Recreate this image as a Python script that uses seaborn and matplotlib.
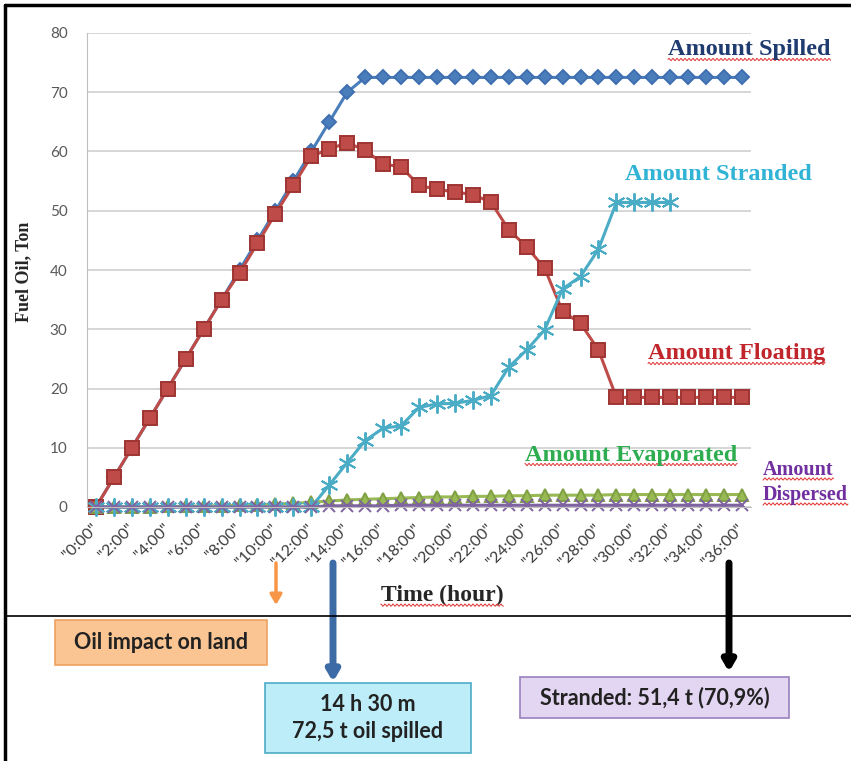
import numpy as np
import pandas as pd
import seaborn as sns
import matplotlib.pyplot as plt
from matplotlib.patches import Rectangle
from matplotlib.lines import Line2D

# hourly categories, labels shown every 2 hours
hours = list(range(37))
hour_labels = ['"%d:00"' % h for h in hours]

spilled = [0, 5, 10, 15, 20, 25, 30, 35, 40, 45, 50, 55, 60, 65, 70] + [72.5] * 22
floating = [0, 5, 10, 15, 20, 25, 30, 35, 39.5, 44.5, 49.5, 54.3, 59.2, 60.4, 61.5,
            60.2, 57.9, 57.4, 54.3, 53.6, 53.2, 52.7, 51.5, 46.8, 43.9, 40.3, 33.0,
            31.0, 26.5] + [18.5] * 8
stranded = [0] * 13 + [3.7, 7.5, 11.2, 13.3, 13.7, 16.8, 17.4, 17.5, 18.0, 18.8, 23.6,
                       26.5, 29.9, 36.8, 38.9, 43.5, 51.4, 51.4, 51.4, 51.4]
evaporated = [0, 0, 0, 0, 0.1, 0.1, 0.2, 0.2, 0.3, 0.4, 0.5, 0.6, 0.8, 1.0, 1.2, 1.3,
              1.4, 1.5, 1.6, 1.7, 1.7, 1.8, 1.8, 1.9, 1.9] + [2.0] * 4 + [2.1] * 8
dispersed = [0] * 13 + [0.2] * 4 + [0.3] * 20

W, H = 851, 761

sns.set_style("white")
plt.rcParams['font.family'] = ['Lato', 'DejaVu Sans']

fig = plt.figure(figsize=(W / 100, H / 100), dpi=100)
ax = fig.add_axes([87 / W, 1 - 507 / H, 664 / W, 474 / H])

# series: (values, colour, marker, size, edge)
series = [
    (spilled, "#4A7EBB", "D", 7.5, "#3F6FB0"),
    (floating, "#BE4B48", "s", 9.5, "#9E3532"),
    (evaporated, "#98B954", "^", 9, "#7FA043"),
    (stranded, "#4BACC6", (6, 2, 0), 13, "#4BACC6"),
    (dispersed, "#7F63A1", "x", 8, "#7F63A1"),
]
for vals, col, mk, ms, ec in series:
    df = pd.DataFrame({"hour": hours[:len(vals)], "value": vals})
    sns.lineplot(data=df, x="hour", y="value", color=col, lw=2.2, marker=mk,
                 markersize=ms, markeredgecolor=ec, markeredgewidth=1.4, ax=ax)
# markers on the zero line are drawn whole, as in the original
for ln in ax.lines:
    ln.set_clip_on(False)

ax.set_xlim(-0.5, 36.5)
ax.set_ylim(0, 80)
ax.set_yticks(range(0, 81, 10))
ax.yaxis.grid(True, color="#D0D0D0", lw=1.2)
ax.set_xticks(hours[::2])
ax.set_xticklabels(hour_labels[::2], rotation=45, ha="right", va="center",
                   rotation_mode="anchor", fontsize=11.5, color="#3A3A3A")
ax.tick_params(axis="x", pad=14, length=0)
ax.tick_params(axis="y", labelsize=11, colors="#595959", length=0, pad=14)
for s in ["top", "right"]:
    ax.spines[s].set_visible(False)
ax.spines["left"].set_color("#BFBFBF")
ax.spines["bottom"].set_color("#BFBFBF")

serif = ["Liberation Serif", "DejaVu Serif"]
ax.set_xlabel("Time (hour)", fontsize=17, fontweight="bold", family=serif)
ax.set_ylabel("Fuel Oil, Ton", fontsize=13, fontweight="bold", family=serif)
ax.xaxis.set_label_coords((442 - 87) / 664, (507 - 585) / 474)
ax.yaxis.set_label_coords((32 - 87) / 664, (507 - 272) / 474)

def fx(px):
    return px / W

def fy(py):
    return 1 - py / H

labels = [
    ("Amount Spilled", 668, 50, "#1F3B70", 17.5, True),
    ("Amount Stranded", 625, 175, "#31B3D6", 17.5, False),
    ("Amount Floating", 648, 354, "#C0262C", 17.5, True),
    ("Amount Evaporated", 525, 455, "#2EAD50", 17.5, True),
    ("Amount", 763, 470, "#7030A0", 14.5, True),
    ("Dispersed", 763, 495, "#7030A0", 14.5, True),
]
texts = []
for txt, x, y, col, fs, wavy in labels:
    t = fig.text(fx(x), fy(y), txt, color=col, fontsize=fs, fontweight="bold",
                 family=serif, ha="left", va="center")
    texts.append((t, wavy))

# spell-check style squiggles under some labels
fig.canvas.draw()
rend = fig.canvas.get_renderer()
for t, wavy in texts + [(ax.xaxis.label, True)]:
    if not wavy:
        continue
    bb = t.get_window_extent(rend)
    xs = np.linspace(bb.x0, bb.x1, int(bb.width))
    ys = bb.y0 + 1 + 1.2 * np.sin(xs * np.pi / 2)
    fig.add_artist(Line2D(xs / W, ys / H, color="#E03030", lw=0.7))

# frame and divider
fig.add_artist(Line2D([fx(5), fx(5)], [fy(5), 0], color="black", lw=2.5))
fig.add_artist(Line2D([fx(5), 1], [fy(5), fy(5)], color="black", lw=2.5))
fig.add_artist(Line2D([fx(5), 1], [fy(616), fy(616)], color="black", lw=1.2))

# boxes
boxes = [
    ("Oil impact on land", 55, 620, 267, 665, "#FBC593", "#EFA261"),
    ("14 h 30 m\n72,5 t oil spilled", 265, 683, 471, 753, "#BDEDF9", "#4BACC6"),
    ("Stranded: 51,4 t (70,9%)", 520, 677, 789, 718, "#E3D6F2", "#9A80BF"),
]
for txt, x0, y0, x1, y1, fc, ec in boxes:
    fig.add_artist(Rectangle((fx(x0), fy(y1)), fx(x1 - x0), (y1 - y0) / H,
                             facecolor=fc, edgecolor=ec, lw=1.2))
    fig.text(fx((x0 + x1) / 2), fy((y0 + y1) / 2), txt, ha="center", va="center",
             fontsize=15.5, fontweight="bold", color="#222222", linespacing=1.4)

# arrows
arrows = [(276, 563, 605, "#F79646", 2.5), (333, 563, 682, "#3C6BA5", 5),
          (729, 563, 672, "black", 5)]
for x, ya, yb, col, lw in arrows:
    ax.annotate("", xy=(x, H - yb), xytext=(x, H - ya), xycoords="figure pixels",
                textcoords="figure pixels",
                arrowprops=dict(arrowstyle="-|>,head_width=0.35,head_length=0.6",
                                color=col, lw=lw, shrinkA=0, shrinkB=0))

plt.savefig("out.png", dpi=100)
plt.close()
